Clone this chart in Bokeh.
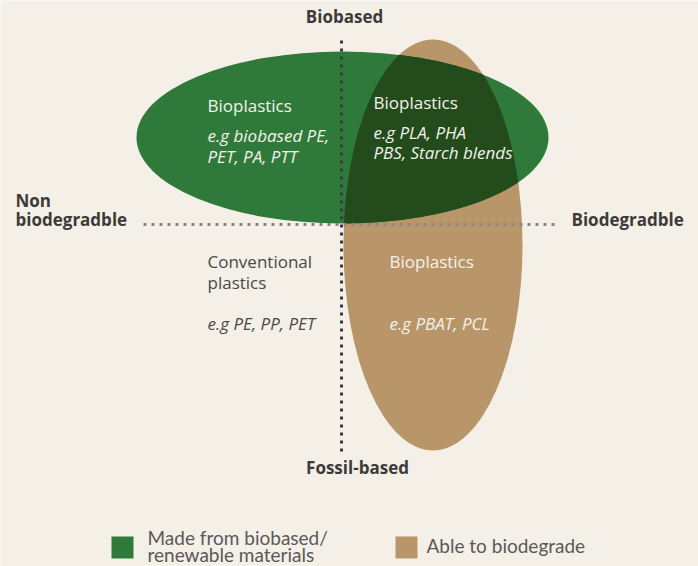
import numpy as np
from bokeh.plotting import figure
from bokeh.models import Range1d
from bokeh.core.properties import value
from bokeh.embed import file_html
from bokeh.resources import INLINE

# ---- data (diagram coordinates, y grows downward) ----
green_ellipse = dict(x=342, y=137, w=412, h=172)
tan_ellipse = dict(x=432.5, y=244.5, w=179, h=411)

axis_v = dict(x0=341, y0=40, x1=341, y1=452)
axis_h = dict(x0=143, y0=224, x1=557, y1=224)

axis_labels = ["Biobased", "Fossil-based", "Non", "biodegradble", "Biodegradble"]
axis_label_x = [344, 357, 15, 15, 571]
axis_label_y = [16, 467, 200, 219, 219]
axis_label_align = ["center", "center", "left", "left", "left"]

white_labels = ["Bioplastics", "Bioplastics", "Bioplastics"]
white_label_x = [207, 373, 389]
white_label_y = [105, 102, 261]

white_examples = ["e.g biobased PE,", "PET, PA, PTT", "e.g PLA, PHA", "PBS, Starch blends", "e.g PBAT, PCL"]
white_example_x = [207, 207, 373, 373, 389]
white_example_y = [135, 156, 132, 152, 323]

conv_labels = ["Conventional", "plastics"]
conv_label_x = [207, 207]
conv_label_y = [261, 282]
conv_examples = ["e.g PE, PP, PET"]
conv_example_x = [207]
conv_example_y = [323]

legend_names = ["Made from biobased/", "renewable materials", "Able to biodegrade"]
legend_text_x = [147, 147, 426]
legend_text_y = [537, 554, 545]
legend_box_x = [122, 406]
legend_box_y = [547, 547]

GREEN = "#2f7a3b"
TAN = "#b9966a"
DARK = "#234b1c"
BG = "#f4f0e8"
INK = "#3d3b3a"

p = figure(width=698, height=566, x_range=Range1d(0, 698), y_range=Range1d(566, 0),
           output_backend="svg", toolbar_location=None, min_border=0)
p.axis.visible = False
p.grid.visible = False
p.outline_line_color = None
p.background_fill_color = BG
p.border_fill_color = BG

# ellipses
p.ellipse(x=[tan_ellipse["x"]], y=[tan_ellipse["y"]], width=[tan_ellipse["w"]],
          height=[tan_ellipse["h"]], fill_color=TAN, line_color=None)
p.ellipse(x=[green_ellipse["x"]], y=[green_ellipse["y"]], width=[green_ellipse["w"]],
          height=[green_ellipse["h"]], fill_color=GREEN, line_color=None)

# intersection region
def ell_pts(e, n=720):
    t = np.linspace(0, 2 * np.pi, n, endpoint=False)
    return e["x"] + e["w"] / 2 * np.cos(t), e["y"] + e["h"] / 2 * np.sin(t)

def inside(e, x, y):
    return ((x - e["x"]) / (e["w"] / 2)) ** 2 + ((y - e["y"]) / (e["h"] / 2)) ** 2 <= 1

gx, gy = ell_pts(green_ellipse)
tx, ty = ell_pts(tan_ellipse)
m1 = inside(tan_ellipse, gx, gy)
m2 = inside(green_ellipse, tx, ty)
ix = np.concatenate([gx[m1], tx[m2]])
iy = np.concatenate([gy[m1], ty[m2]])
cx, cy = ix.mean(), iy.mean()
order = np.argsort(np.arctan2(iy - cy, ix - cx))
p.patch(ix[order], iy[order], fill_color=DARK, line_color=None)

# dotted axes
p.line([axis_h["x0"], axis_h["x1"]], [axis_h["y0"], axis_h["y1"]], line_color="#8a8784",
       line_width=3, line_dash="3 5")
p.line([axis_v["x0"], axis_v["x1"]], [axis_v["y0"], axis_v["y1"]], line_color="#3a3a3a",
       line_width=3, line_dash="3 5")

# texts
p.text(x=axis_label_x, y=axis_label_y, text=axis_labels, text_align=axis_label_align,
       text_baseline="alphabetic", text_font=value("Open Sans"), text_font_style="bold",
       text_font_size="17px", text_color=INK)
p.text(x=white_label_x, y=white_label_y, text=white_labels, text_baseline="alphabetic",
       text_font=value("Open Sans"), text_font_size="17px", text_color="#f4f2ea")
p.text(x=white_example_x, y=white_example_y, text=white_examples, text_baseline="alphabetic",
       text_font=value("Open Sans"), text_font_style="italic", text_font_size="17px",
       text_color="#f4f2ea")
p.text(x=conv_label_x, y=conv_label_y, text=conv_labels, text_baseline="alphabetic",
       text_font=value("Open Sans"), text_font_size="17px", text_color="#4a4848")
p.text(x=conv_example_x, y=conv_example_y, text=conv_examples, text_baseline="alphabetic",
       text_font=value("Open Sans"), text_font_style="italic", text_font_size="17px",
       text_color="#4a4848")

# legend
p.rect(x=legend_box_x, y=legend_box_y, width=22, height=22, fill_color=[GREEN, TAN],
       line_color=None)
p.text(x=legend_text_x, y=legend_text_y, text=legend_names, text_baseline="alphabetic",
       text_font=value("Lato"), text_font_size="19px", text_color="#5a5858")

open("out.html", "w").write(file_html(p, INLINE))
